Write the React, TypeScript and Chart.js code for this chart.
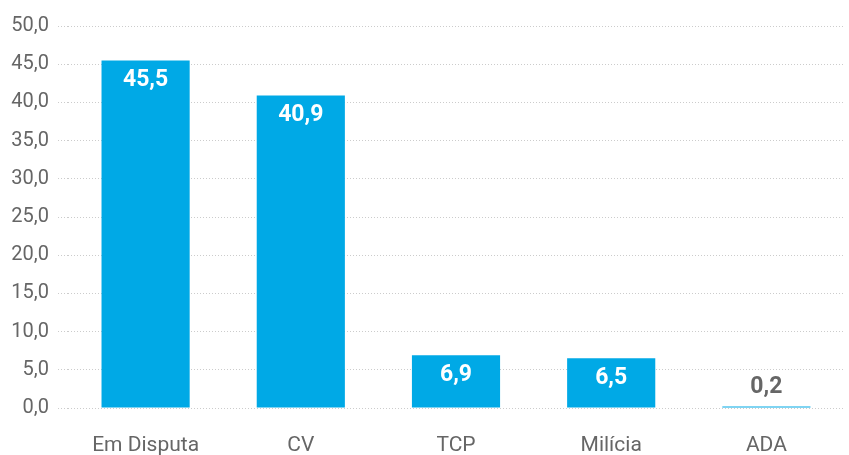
import React, { useEffect, useRef } from "react";
import { Chart, registerables } from "chart.js";

Chart.register(...registerables);

const categories = ["Em Disputa", "CV", "TCP", "Milícia", "ADA"];
const values = [45.5, 40.9, 6.9, 6.5, 0.2];
const yMax = 50;
const yStep = 5;

const fmt = (v: number) => v.toFixed(1).replace(".", ",");

const labelPlugin = {
  id: "valueLabels",
  afterDatasetsDraw(chart: any) {
    const { ctx } = chart;
    const meta = chart.getDatasetMeta(0);
    ctx.save();
    ctx.font = "bold 23px Roboto";
    ctx.textAlign = "center";
    ctx.textBaseline = "middle";
    meta.data.forEach((bar: any, i: number) => {
      const v = values[i];
      const h = bar.base - bar.y;
      if (h > 30) {
        ctx.fillStyle = "#ffffff";
        ctx.fillText(fmt(v), bar.x, bar.y + 20);
      } else {
        ctx.fillStyle = "#666666";
        ctx.fillText(fmt(v), bar.x, bar.y - 19);
      }
    });
    ctx.restore();
  },
};

export default function App() {
  const ref = useRef<HTMLCanvasElement | null>(null);
  useEffect(() => {
    document.body.style.margin = "0";
    const chart = new Chart(ref.current!, {
      type: "bar",
      data: {
        labels: categories,
        datasets: [
          {
            data: values,
            backgroundColor: "#00A9E6",
            categoryPercentage: 1,
            barPercentage: 0.568,
          },
        ],
      },
      options: {
        responsive: false,
        animation: false,
        layout: { padding: { top: 26, right: 5, left: 0, bottom: 0 } },
        plugins: { legend: { display: false }, tooltip: { enabled: false } },
        scales: {
          x: {
            grid: { display: false },
            border: { display: false },
            ticks: { color: "#666666", font: { family: "Roboto", size: 21 }, padding: 17 },
            afterFit: (s: any) => {
              s.height = 47;
            },
          },
          y: {
            min: 0,
            max: yMax,
            ticks: {
              stepSize: yStep,
              color: "#666666",
              font: { family: "Roboto", size: 20 },
              padding: 9,
              callback: (v: any) => fmt(Number(v)),
            },
            grid: {
              color: "#cccccc",
              borderDash: [1, 2],
              tickBorderDash: [1, 2],
              tickColor: "#cccccc",
              tickLength: 10,
            } as any,
            border: { display: false, dash: [1, 2] },
            afterFit: (s: any) => {
              s.width = 68;
            },
          },
        },
      },
      plugins: [labelPlugin],
    });
    return () => chart.destroy();
  }, []);
  return <canvas ref={ref} width={849} height={455} />;
}
